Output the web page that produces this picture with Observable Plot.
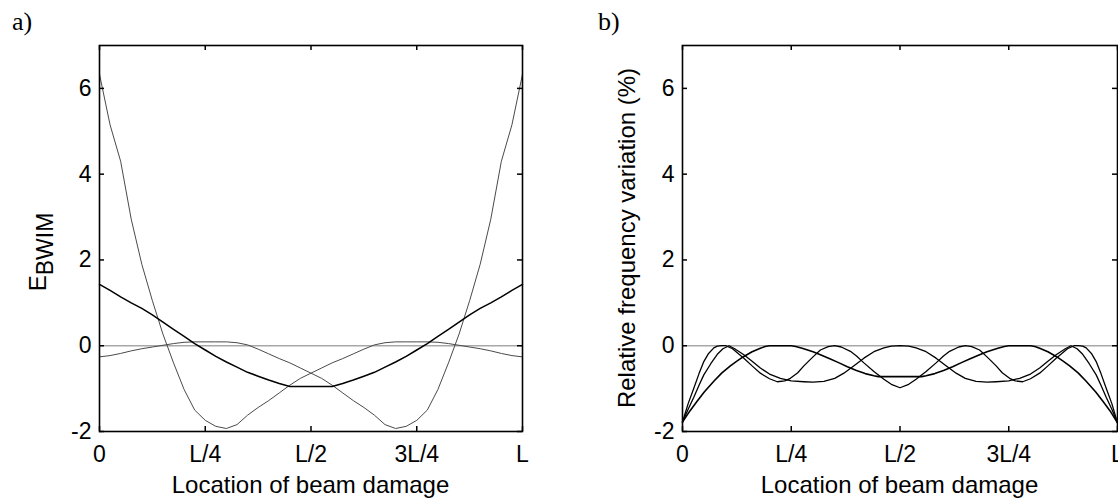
<!DOCTYPE html>
<html><head><meta charset="utf-8">
<script src="https://cdn.jsdelivr.net/npm/d3@7"></script>
<script src="https://cdn.jsdelivr.net/npm/@observablehq/plot@0.6"></script>
<style>
html,body{margin:0;padding:0;background:#fff;}
#wrap{position:relative;width:1118px;height:500px;overflow:hidden;background:#fff;}
#wrap svg{position:absolute;top:0;}
</style></head><body><div id="wrap"></div>
<script>
// ---- tick definitions ----
const xTicks = [0, 0.25, 0.5, 0.75, 1];
const xTickLabels = ["0", "L/4", "L/2", "3L/4", "L"];
const yTicks = [-2, 0, 2, 4, 6];

// ---- panel a) E_BWIM ----
const xa = [0,0.025,0.05,0.075,0.1,0.125,0.15,0.175,0.2,0.225,0.25,0.275,0.3,0.325,0.35,0.375,0.4,0.425,0.45,0.475,0.5,0.525,0.55,0.575,0.6,0.625,0.65,0.675,0.7,0.725,0.75,0.775,0.8,0.825,0.85,0.875,0.9,0.925,0.95,0.975,1];
const aSteepLeft = [6.33,5.15,4.3,2.95,1.9,1.05,0.27,-0.4,-1.02,-1.5,-1.74,-1.88,-1.93,-1.84,-1.62,-1.44,-1.28,-1.1,-0.92,-0.76,-0.64,-0.52,-0.4,-0.3,-0.19,-0.08,0.02,0.07,0.09,0.09,0.09,0.09,0.08,0.05,0.01,-0.03,-0.07,-0.12,-0.18,-0.23,-0.26];
const aSteepRight = [-0.26,-0.23,-0.18,-0.12,-0.07,-0.03,0.01,0.05,0.08,0.09,0.09,0.09,0.09,0.07,0.02,-0.08,-0.19,-0.3,-0.4,-0.52,-0.64,-0.76,-0.92,-1.1,-1.28,-1.44,-1.62,-1.84,-1.93,-1.88,-1.74,-1.5,-1.02,-0.4,0.27,1.05,1.9,2.95,4.3,5.15,6.33];
const aBowl = [1.43,1.29,1.14,1.0,0.87,0.72,0.55,0.38,0.22,0.05,-0.1,-0.25,-0.38,-0.5,-0.62,-0.71,-0.8,-0.88,-0.95,-0.95,-0.95,-0.95,-0.95,-0.88,-0.8,-0.71,-0.62,-0.5,-0.38,-0.25,-0.1,0.05,0.22,0.38,0.55,0.72,0.87,1.0,1.14,1.29,1.43];

// ---- panel b) relative frequency variation (%) ----
const m1x = [0,0.017,0.034,0.05,0.072,0.09,0.11,0.125,0.141,0.16,0.179,0.19,0.2,0.225,0.25,0.26,0.275,0.3,0.317,0.34,0.36,0.379,0.4,0.42,0.44,0.45,0.475,0.5,0.525,0.55,0.56,0.58,0.6,0.621,0.64,0.66,0.683,0.7,0.725,0.74,0.75,0.775,0.8,0.81,0.821,0.84,0.859,0.875,0.89,0.91,0.928,0.95,0.966,0.983,1];
const m1y = [-1.78,-1.52,-1.29,-1.08,-0.83,-0.64,-0.47,-0.36,-0.25,-0.14,-0.06,-0.02,0,0,0,-0.02,-0.06,-0.14,-0.21,-0.31,-0.4,-0.49,-0.58,-0.65,-0.7,-0.72,-0.72,-0.72,-0.72,-0.72,-0.7,-0.65,-0.58,-0.49,-0.4,-0.31,-0.21,-0.14,-0.06,-0.02,0,0,0,-0.02,-0.06,-0.14,-0.25,-0.36,-0.47,-0.64,-0.83,-1.08,-1.29,-1.52,-1.8];
const m2x = [0,0.013,0.026,0.038,0.049,0.065,0.08,0.093,0.107,0.12,0.141,0.16,0.179,0.2,0.225,0.25,0.279,0.3,0.325,0.35,0.371,0.395,0.417,0.44,0.463,0.48,0.5,0.52,0.537,0.56,0.583,0.605,0.629,0.65,0.675,0.7,0.721,0.75,0.775,0.8,0.821,0.84,0.859,0.88,0.893,0.907,0.92,0.935,0.951,0.962,0.974,0.987,1];
const m2y = [-1.78,-1.48,-1.2,-0.92,-0.68,-0.42,-0.2,-0.07,0,-0.07,-0.21,-0.36,-0.52,-0.66,-0.76,-0.82,-0.84,-0.85,-0.83,-0.76,-0.64,-0.46,-0.29,-0.14,-0.05,-0.01,0,-0.01,-0.05,-0.14,-0.29,-0.46,-0.64,-0.76,-0.83,-0.85,-0.84,-0.82,-0.76,-0.66,-0.52,-0.36,-0.21,-0.07,0,-0.07,-0.2,-0.42,-0.68,-0.92,-1.2,-1.48,-1.8];
const m3x = [0,0.013,0.026,0.038,0.049,0.06,0.072,0.08,0.09,0.1,0.115,0.13,0.141,0.16,0.179,0.2,0.218,0.235,0.248,0.265,0.279,0.3,0.317,0.335,0.35,0.365,0.386,0.4,0.417,0.44,0.463,0.48,0.5,0.52,0.537,0.56,0.583,0.6,0.614,0.635,0.65,0.665,0.683,0.7,0.721,0.735,0.752,0.765,0.782,0.8,0.821,0.84,0.859,0.87,0.885,0.9,0.91,0.92,0.928,0.94,0.951,0.962,0.974,0.987,1];
const m3y = [-1.78,-1.35,-0.99,-0.65,-0.37,-0.18,-0.05,-0.01,0,0,-0.07,-0.2,-0.29,-0.47,-0.64,-0.77,-0.84,-0.82,-0.76,-0.63,-0.47,-0.26,-0.1,-0.02,0,-0.03,-0.13,-0.24,-0.4,-0.6,-0.78,-0.9,-0.98,-0.9,-0.78,-0.6,-0.4,-0.24,-0.13,-0.03,0,-0.02,-0.1,-0.26,-0.47,-0.63,-0.76,-0.82,-0.84,-0.77,-0.64,-0.47,-0.29,-0.2,-0.07,0,0,-0.01,-0.05,-0.18,-0.37,-0.65,-0.99,-1.35,-1.8];

const pts = (xs, ys) => xs.map((x, i) => ({x, y: ys[i]}));

const FONT = "'Liberation Sans', Arial, sans-serif";
const FRAME_H = 500 - 45 - 69;   // plot-area height in px
const TICK = 5;                  // inward tick length in px

function zeroLine() {
  return Plot.ruleY([0], {stroke: "#a8a8a8", strokeWidth: 1.6});
}
function frameMarks(frameW) {
  return [
    // inward tick marks on all four sides
    Plot.tickX(xTicks, {x: d => d, insetTop: FRAME_H - TICK, stroke: "#000", strokeWidth: 1.5}),
    Plot.tickX(xTicks, {x: d => d, insetBottom: FRAME_H - TICK, stroke: "#000", strokeWidth: 1.5}),
    Plot.tickY(yTicks, {y: d => d, insetRight: frameW - TICK, stroke: "#000", strokeWidth: 1.5}),
    Plot.tickY(yTicks, {y: d => d, insetLeft: frameW - TICK, stroke: "#000", strokeWidth: 1.5}),
    Plot.frame({stroke: "#000", strokeWidth: 1.6}),
    Plot.axisX(xTicks, {anchor: "bottom", tickSize: 0, tickPadding: 14, label: null,
      tickFormat: d => xTickLabels[xTicks.indexOf(d)]}),
    Plot.axisY(yTicks, {anchor: "left", tickSize: 0, tickPadding: 8, label: null,
      tickFormat: d => String(d)})
  ];
}
const common = {
  height: 500, marginTop: 45, marginBottom: 69,
  x: {domain: [0, 1]}, y: {domain: [-2, 7]},
  style: {fontFamily: FONT, fontSize: "23px", color: "#000", background: "transparent", overflow: "visible"}
};

const plotA = Plot.plot({
  ...common, width: 560, marginLeft: 99, marginRight: 38,
  marks: [
    zeroLine(),
    Plot.line(pts(xa, aSteepLeft), {x: "x", y: "y", stroke: "#4a4a4a", strokeWidth: 1}),
    Plot.line(pts(xa, aSteepRight), {x: "x", y: "y", stroke: "#4a4a4a", strokeWidth: 1}),
    Plot.line(pts(xa, aBowl), {x: "x", y: "y", stroke: "#000", strokeWidth: 1.5}),
    ...frameMarks(560 - 99 - 38)
  ]
});

const plotB = Plot.plot({
  ...common, width: 558, marginLeft: 122, marginRight: 1,
  marks: [
    zeroLine(),
    Plot.line(pts(m1x, m1y), {x: "x", y: "y", stroke: "#000", strokeWidth: 1.6}),
    Plot.line(pts(m2x, m2y), {x: "x", y: "y", stroke: "#000", strokeWidth: 1.3}),
    Plot.line(pts(m3x, m3y), {x: "x", y: "y", stroke: "#000", strokeWidth: 1.3}),
    ...frameMarks(558 - 122 - 1)
  ]
});

const wrap = document.getElementById("wrap");
plotA.style.left = "0px";
plotB.style.left = "560px";
wrap.appendChild(plotA);
wrap.appendChild(plotB);

// ---- text labels ----
const sa = d3.select(plotA), sb = d3.select(plotB);
function panelLetter(s, x, t) {
  s.append("text").attr("x", x).attr("y", 30).attr("text-anchor", "start")
    .style("font-family", "'Liberation Serif', 'Times New Roman', serif").style("font-size", "26px").text(t);
}
function xLabel(s, x) {
  s.append("text").attr("x", x).attr("y", 493).attr("text-anchor", "middle")
    .style("font-size", "24px").text("Location of beam damage");
}
panelLetter(sa, 12, "a)");
panelLetter(sb, 38, "b)");
xLabel(sa, 310.5);
xLabel(sb, 339.5);

const ya = sa.append("text").attr("transform", "translate(46,252) rotate(-90)")
  .attr("text-anchor", "middle").style("font-size", "24px");
ya.append("tspan").text("E");
ya.append("tspan").attr("dy", 7).style("font-size", "23px").text("BWIM");

sb.append("text").attr("transform", "translate(75,238) rotate(-90)")
  .attr("text-anchor", "middle").style("font-size", "24px").text("Relative frequency variation (%)");
</script></body></html>
